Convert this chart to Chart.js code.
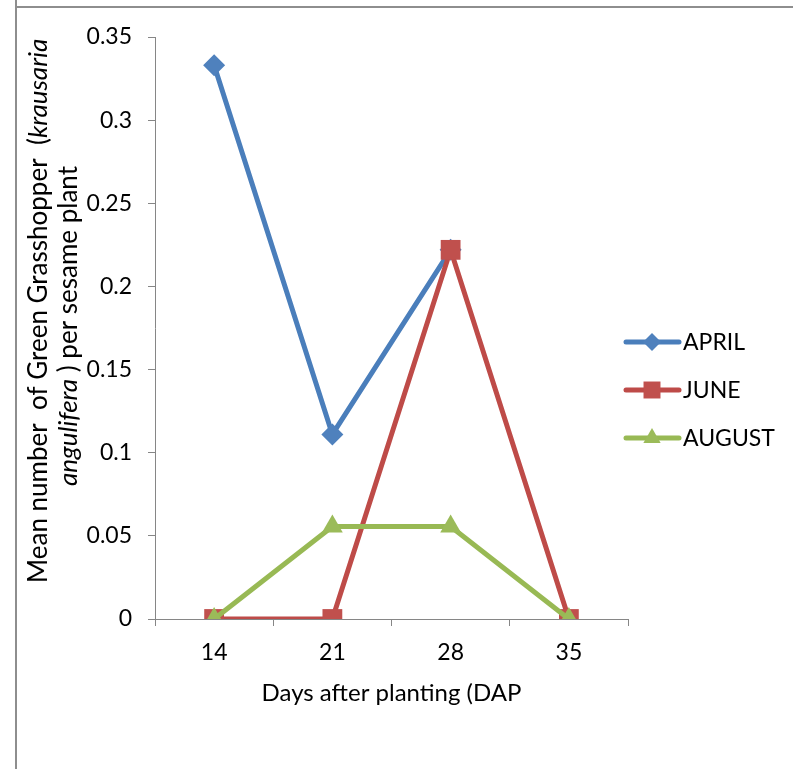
<!DOCTYPE html>
<html>
<head>
<meta charset="utf-8">
<script src="https://cdn.jsdelivr.net/npm/chart.js@4"></script>
<style>
  html, body { margin: 0; padding: 0; background: #fff; }
  #wrap { position: relative; width: 793px; height: 769px; overflow: hidden; }
  #frameLeft { position: absolute; left: 15px; top: 0; width: 2px; height: 769px; background: #8e8e8e; }
  #frameTop { position: absolute; left: 15px; top: 6px; width: 778px; height: 2px; background: #8e8e8e; }
  canvas { position: absolute; left: 0; top: 0; }
</style>
</head>
<body>
<div id="wrap">
  <canvas id="c" width="793" height="769"></canvas>
  <div id="frameLeft"></div>
  <div id="frameTop"></div>
</div>
<script>
// Days after planting
const categories = ['14', '21', '28', '35'];
// Mean number of green grasshoppers per sesame plant, by planting month
const april  = [0.333, 0.111, 0.222, null];
const june   = [0, 0, 0.222, 0];
const august = [0, 0.0556, 0.0556, 0];
const seriesNames = ['APRIL', 'JUNE', 'AUGUST'];
const yTicks = [0, 0.05, 0.1, 0.15, 0.2, 0.25, 0.3, 0.35];

const FONT = 'Lato, "Open Sans", sans-serif';
const LINE_W = 5;
const colors = {
  APRIL:  { line: '#4a7ebb', fill: '#4f81bd' },
  JUNE:   { line: '#be4b48', fill: '#c0504d' },
  AUGUST: { line: '#98b954', fill: '#9bbb59' }
};
const markers = {
  APRIL:  { style: 'rectRot', radius: 11 },
  JUNE:   { style: 'rect', radius: 14 },
  AUGUST: { style: 'triangle', radius: 12 }
};

function makeDataset(name, values, order) {
  return {
    label: name,
    data: values,
    borderColor: colors[name].line,
    backgroundColor: colors[name].fill,
    borderWidth: LINE_W,
    pointStyle: markers[name].style,
    pointRadius: markers[name].radius,
    pointHoverRadius: markers[name].radius,
    pointBorderWidth: 0,
    pointBackgroundColor: colors[name].fill,
    tension: 0,
    spanGaps: false,
    order: order
  };
}

// Rotated two-line axis title with italic species name, and a legend of line + marker samples
const annotations = {
  id: 'annotations',
  afterDraw(chart) {
    const ctx = chart.ctx;
    ctx.save();
    // y-axis title: each line starts at the bottom and runs upward
    const lines = [
      { parts: [['Mean number  of Green Grasshopper  (', false], ['krausaria', true]], x: 47, startY: 583 },
      { parts: [['angulifera', true], [' ) per sesame plant', false]], x: 77, startY: 486 }
    ];
    const size = 26;
    ctx.fillStyle = '#000';
    ctx.textBaseline = 'alphabetic';
    ctx.textAlign = 'left';
    lines.forEach(line => {
      ctx.save();
      ctx.translate(line.x, line.startY);
      ctx.rotate(-Math.PI / 2);
      let x = 0;
      line.parts.forEach(([t, it]) => {
        ctx.font = (it ? 'italic ' : '') + size + 'px ' + FONT;
        ctx.fillText(t, x, 0);
        x += ctx.measureText(t).width;
      });
      ctx.restore();
    });

    // legend
    const legendY = [342, 390, 438];
    seriesNames.forEach((name, i) => {
      const y = legendY[i];
      ctx.strokeStyle = colors[name].line;
      ctx.lineWidth = LINE_W;
      ctx.lineCap = 'round';
      ctx.beginPath();
      ctx.moveTo(626, y);
      ctx.lineTo(679, y);
      ctx.stroke();
      ctx.fillStyle = colors[name].fill;
      Chart.helpers.drawPoint(ctx, {
        pointStyle: markers[name].style,
        radius: markers[name].radius - 2,
        rotation: 0,
        borderWidth: 0
      }, 652, y);
      ctx.fillStyle = '#000';
      ctx.font = '23px ' + FONT;
      ctx.textAlign = 'left';
      ctx.textBaseline = 'middle';
      ctx.fillText(name, 683, y + 1);
    });
    ctx.restore();
  }
};

const chart = new Chart(document.getElementById('c'), {
  type: 'line',
  data: {
    labels: categories,
    datasets: [
      makeDataset('APRIL', april, 2),
      makeDataset('JUNE', june, 1),
      makeDataset('AUGUST', august, 0)
    ]
  },
  options: {
    responsive: false,
    animation: false,
    events: [],
    layout: { padding: { top: 37, right: 165, bottom: 0, left: 0 } },
    plugins: {
      legend: { display: false },
      tooltip: { enabled: false }
    },
    scales: {
      x: {
        offset: true,
        afterFit(scale) { scale.height = 150; },
        grid: {
          offset: true,
          drawOnChartArea: false,
          drawTicks: true,
          tickLength: 7,
          color: '#868686',
          lineWidth: 1
        },
        border: { display: true, color: '#868686', width: 1 },
        ticks: {
          color: '#000',
          padding: 13,
          font: { family: FONT, size: 23 }
        },
        title: {
          display: true,
          text: 'Days after planting (DAP',
          color: '#000',
          font: { family: FONT, size: 24 },
          padding: { top: 0, bottom: 61 }
        }
      },
      y: {
        min: 0,
        max: 0.35,
        afterFit(scale) { scale.width = 155; },
        afterBuildTicks(scale) { scale.ticks = yTicks.map(v => ({ value: v })); },
        grid: {
          drawOnChartArea: false,
          drawTicks: true,
          tickLength: 7,
          color: '#868686',
          lineWidth: 1
        },
        border: { display: true, color: '#868686', width: 1 },
        ticks: {
          color: '#000',
          padding: 16,
          font: { family: FONT, size: 23 },
          callback: v => String(Math.round(v * 100) / 100)
        }
      }
    }
  },
  plugins: [annotations]
});
</script>
</body>
</html>
